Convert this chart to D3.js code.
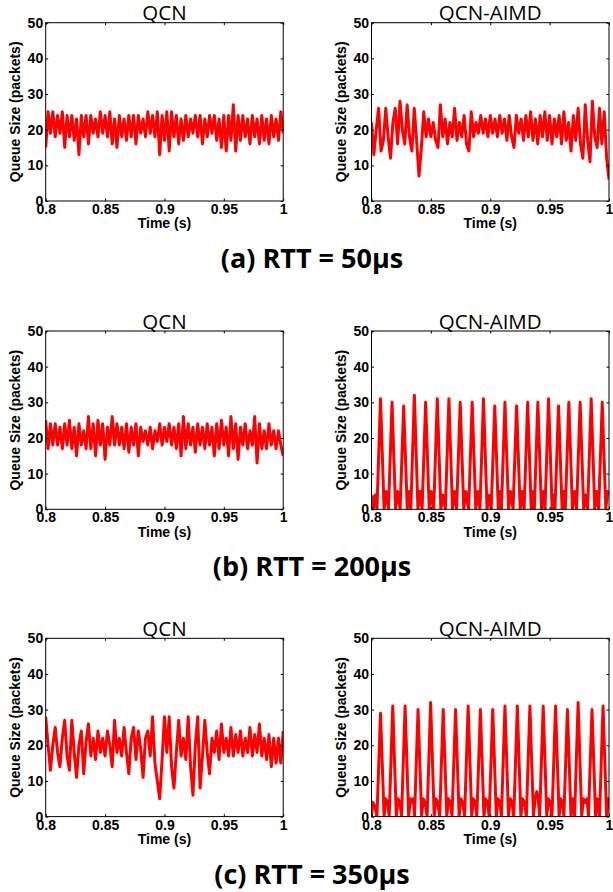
<!DOCTYPE html>
<html>
  <head>
    <script src="https://d3js.org/d3.v7.min.js"></script>
    <style>
      body { margin: 0; background: #fff; }
      .axis text {
        font-family: "Liberation Sans", Arial, sans-serif;
        font-weight: bold;
        font-size: 14px;
        fill: #000;
      }
      .axis .domain { display: none; }
      .axis .tick line { stroke: #000; stroke-width: 1px; }
      .axis__label {
        font-family: "Liberation Sans", Arial, sans-serif;
        font-weight: bold;
        font-size: 14px;
        text-anchor: middle;
      }
      .panel__title {
        font-family: "Open Sans", sans-serif;
        font-size: 20.5px;
        text-anchor: middle;
      }
      .caption {
        font-family: "Open Sans", sans-serif;
        font-weight: bold;
        font-size: 27px;
        text-anchor: middle;
      }
    </style>
  </head>
  <body>
    <svg width="613" height="892"></svg>
    <script>
      // x ticks and y ticks shared by all six panels
      const xTicks = [0.8, 0.85, 0.9, 0.95, 1];
      const yTicks = [0, 10, 20, 30, 40, 50];
      const xLabel = "Time (s)";
      const yLabel = "Queue Size (packets)";
      const titles = ["QCN", "QCN-AIMD"];
      const captions = ["(a) RTT = 50µs", "(b) RTT = 200µs", "(c) RTT = 350µs"];

      const sampleTimes = d3.range(101).map(i => +(0.8 + i * 0.002).toFixed(3));

      const qcn50 = [15,25,19,25,18,24,19,25,15,24,18,24,17,23,13,24,18,24,16,24,
        19,23,18,25,19,24,18,25,16,23,15,24,18,23,17,24,18,24,16,24,
        19,23,18,25,19,24,18,25,13,24,17,25,14,25,18,24,16,23,17,24,
        18,23,19,24,18,24,16,23,18,24,19,24,17,23,15,24,14,24,17,27,
        14,24,17,24,18,23,16,24,18,23,16,24,17,23,16,24,18,23,17,25,19];

      const aimd50 = [22,13,20,26,14,17,26,18,12,22,26,16,28,20,16,27,18,14,26,17,
        7,15,25,18,23,18,22,17,15,27,18,23,16,22,18,26,17,22,18,24,
        16,14,25,18,22,19,24,19,23,18,24,19,23,18,24,19,23,17,24,18,
        15,24,19,23,17,24,18,25,17,23,16,24,18,25,17,24,16,23,18,24,
        16,25,17,22,14,24,17,26,16,12,27,17,11,28,18,15,26,16,25,12,6];

      const qcn200 = [25,17,24,18,24,18,23,17,24,18,25,17,23,15,24,18,22,17,26,17,
        24,15,25,18,24,14,23,18,26,18,24,18,23,17,24,16,23,18,24,15,
        23,19,22,18,23,17,22,19,24,18,23,19,24,18,23,17,24,15,26,17,
        24,18,23,16,24,18,23,17,24,18,23,15,24,17,25,18,23,15,26,17,
        24,14,23,18,24,17,22,18,26,13,24,17,22,17,24,18,22,17,22,18,15];

      const qcn350 = [28,20,13,20,25,18,14,22,27,17,13,27,18,11,20,24,12,21,26,17,
        22,16,24,18,22,17,24,20,14,27,18,22,17,25,18,12,22,25,16,24,
        19,11,22,24,17,28,15,10,5,16,28,18,28,14,8,18,27,17,22,16,
        28,14,6,20,28,8,17,27,18,12,22,18,24,16,26,18,22,17,25,17,
        23,18,24,17,22,18,25,17,23,18,26,17,22,16,23,14,22,15,22,15,24];

      // QCN-AIMD traces: [time (s), queue size] at peaks and troughs
      const aimd200 = [
        [0.8000,4],[0.8015,0],[0.8030,4],[0.8046,0],
        [0.8076,31],[0.8106,0],[0.8124,5],[0.8143,0],
        [0.8173,30],[0.8203,0],[0.8221,5],[0.8241,0],
        [0.8271,29],[0.8301,0],[0.8316,5],[0.8331,0],
        [0.8361,32],[0.8391,0],[0.8409,5],[0.8426,0],
        [0.8456,30],[0.8486,0],[0.8504,5],[0.8524,0],
        [0.8554,31],[0.8584,0],[0.8602,4],[0.8622,0],
        [0.8652,31],[0.8682,0],[0.8700,5],[0.8717,0],
        [0.8747,30],[0.8777,0],[0.8795,5],[0.8818,0],
        [0.8848,30],[0.8878,0],[0.8896,5],[0.8913,0],
        [0.8943,31],[0.8973,0],[0.8991,4],[0.9008,0],
        [0.9038,29],[0.9068,0],[0.9081,5],[0.9094,0],
        [0.9124,30],[0.9154,0],[0.9172,5],[0.9192,0],
        [0.9222,29],[0.9252,0],[0.9269,5],[0.9285,0],
        [0.9315,30],[0.9345,0],[0.9358,5],[0.9371,0],
        [0.9401,30],[0.9431,0],[0.9446,5],[0.9461,0],
        [0.9491,31],[0.9521,0],[0.9533,4],[0.9545,0],
        [0.9575,29],[0.9605,0],[0.9619,5],[0.9632,0],
        [0.9662,30],[0.9692,0],[0.9710,5],[0.9727,0],
        [0.9757,30],[0.9787,0],[0.9804,4],[0.9820,0],
        [0.9850,31],[0.9880,0],[0.9897,5],[0.9913,0],
        [0.9943,30],[0.9973,0],[0.9988,5],[1.0000,4]
      ];

      const aimd350 = [
        [0.8000,0],[0.8010,4],[0.8028,3],[0.8046,0],
        [0.8076,29],[0.8106,0],[0.8120,5],[0.8136,4],[0.8149,0],
        [0.8179,31],[0.8209,0],[0.8223,5],[0.8239,4],[0.8253,0],
        [0.8283,31],[0.8313,0],[0.8327,5],[0.8343,4],[0.8352,5],[0.8362,0],
        [0.8392,30],[0.8422,0],[0.8436,5],[0.8452,4],[0.8468,0],
        [0.8498,32],[0.8528,0],[0.8542,5],[0.8558,4],[0.8574,0],
        [0.8604,30],[0.8634,0],[0.8648,5],[0.8664,4],[0.8678,0],
        [0.8708,30],[0.8738,0],[0.8752,5],[0.8768,4],[0.8784,0],
        [0.8814,31],[0.8844,0],[0.8858,5],[0.8874,4],[0.8887,0],
        [0.8917,30],[0.8947,0],[0.8961,5],[0.8977,4],[0.8991,0],
        [0.9021,30],[0.9051,0],[0.9065,5],[0.9081,4],[0.9094,0],
        [0.9124,31],[0.9154,0],[0.9168,5],[0.9184,4],[0.9198,0],
        [0.9228,31],[0.9258,0],[0.9272,5],[0.9288,4],[0.9304,0],
        [0.9334,31],[0.9364,0],[0.9378,5],[0.9392,7],[0.9404,5],[0.9416,0],
        [0.9446,31],[0.9476,0],[0.9490,5],[0.9506,4],[0.9520,0],
        [0.9550,31],[0.9580,0],[0.9594,5],[0.9608,4],[0.9620,0],
        [0.9650,30],[0.9680,0],[0.9692,5],[0.9702,4],[0.9710,0],
        [0.9740,32],[0.9770,0],[0.9784,5],[0.9800,4],[0.9815,5],[0.9827,0],
        [0.9857,30],[0.9887,0],[0.9900,5],[0.9910,4],[0.9920,0],
        [0.9950,31],[0.9980,0],[0.9992,5],[1.0000,5]
      ];

      const toPairs = vals => sampleTimes.map((t, i) => [t, vals[i]]);
      const seriesGrid = [
        [toPairs(qcn50), toPairs(aimd50)],
        [toPairs(qcn200), aimd200],
        [toPairs(qcn350), aimd350]
      ];

      const colX = [45.7, 371.5];
      const rowY = [22.7, 331, 638.3];
      const plotW = 237.5;
      const plotH = 178.3;
      const tickLen = 2.5;
      const lineColor = "#ff0000";
      const lineWidth = 3;
      const captionY = [268, 576, 884];
      const captionX = 312;

      const svg = d3.select("svg");
      const xScale = d3.scaleLinear().domain([0.8, 1]).range([0, plotW]);
      const yScale = d3.scaleLinear().domain([0, 50]).range([plotH, 0]);
      const line = d3.line()
        .x(d => xScale(d[0]))
        .y(d => yScale(d[1]));

      const fmt = d => d3.format("")(+d.toFixed(2));

      function drawPanel(r, c, data){
        const g = svg.append("g")
            .attr("transform", `translate(${colX[c]}, ${rowY[r]})`);
        const clipId = `clip-${r}-${c}`;
        g.append("clipPath").attr("id", clipId)
          .append("rect").attr("width", plotW).attr("height", plotH);

        g.append("path")
            .datum(data)
            .attr("clip-path", `url(#${clipId})`)
            .attr("fill", "none")
            .attr("stroke", lineColor)
            .attr("stroke-width", lineWidth)
            .attr("stroke-linejoin", "round")
            .attr("d", line);

        g.append("g")
            .attr("class", "axis")
            .attr("transform", `translate(0, ${plotH})`)
            .call(d3.axisBottom(xScale).tickValues(xTicks).tickFormat(fmt)
              .tickSizeInner(-tickLen).tickSizeOuter(0).tickPadding(3));
        g.append("g")
            .attr("class", "axis")
            .call(d3.axisTop(xScale).tickValues(xTicks).tickFormat("")
              .tickSizeInner(-tickLen).tickSizeOuter(0));
        g.append("g")
            .attr("class", "axis")
            .call(d3.axisLeft(yScale).tickValues(yTicks)
              .tickSizeInner(-tickLen).tickSizeOuter(0).tickPadding(2.5));
        g.append("g")
            .attr("class", "axis")
            .attr("transform", `translate(${plotW}, 0)`)
            .call(d3.axisRight(yScale).tickValues(yTicks).tickFormat("")
              .tickSizeInner(-tickLen).tickSizeOuter(0));

        g.selectAll(".axis").attr("font-family", null).attr("font-size", null);

        g.append("rect")
            .attr("width", plotW)
            .attr("height", plotH)
            .attr("fill", "none")
            .attr("stroke", "#000")
            .attr("stroke-width", 1);

        g.append("text")
            .attr("class", "panel__title")
            .attr("x", plotW / 2)
            .attr("y", -2.5)
            .text(titles[c]);

        g.append("text")
            .attr("class", "axis__label")
            .attr("x", plotW / 2)
            .attr("y", plotH + 27.5)
            .text(xLabel);

        g.append("text")
            .attr("class", "axis__label")
            .attr("transform", "rotate(-90)")
            .attr("x", -plotH / 2)
            .attr("y", -26)
            .text(yLabel);
      }

      seriesGrid.forEach((row, r) => row.forEach((data, c) => drawPanel(r, c, data)));

      svg.selectAll(".caption")
        .data(captions)
        .enter().append("text")
          .attr("class", "caption")
          .attr("x", captionX)
          .attr("y", (d, i) => captionY[i])
          .text(d => d);
    </script>
  </body>
</html>
